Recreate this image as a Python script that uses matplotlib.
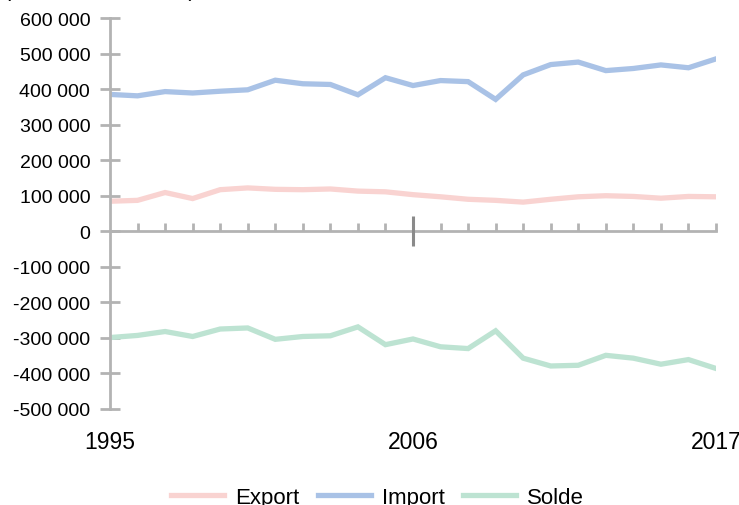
import matplotlib.pyplot as plt
from matplotlib.ticker import FixedLocator, FuncFormatter

plt.rcParams['font.family'] = ['Liberation Sans', 'DejaVu Sans']

years = list(range(1995, 2018))
export = [84500, 87000, 109000, 92000, 117000, 122000, 118000, 117000, 119000, 113000,
          111000, 103000, 97000, 90000, 87000, 82000, 90000, 97000, 100000, 98000,
          93000, 98000, 97000]
imports = [385000, 381000, 393000, 389000, 394000, 398000, 425000, 415000, 413000, 384000,
           432000, 410000, 424000, 421000, 371000, 440000, 469000, 476000, 452000, 458000,
           468000, 460000, 485000]
solde = [-299000, -293000, -282000, -296000, -275000, -272000, -304000, -296000, -294000, -269000,
         -319000, -303000, -325000, -330000, -280000, -357000, -379000, -377000, -349000, -357000,
         -374000, -361000, -386000]
year_labels = [1995, 2006, 2017]
y_ticks = list(range(-500000, 600001, 100000))

c_exp = '#f9d3d1'
c_imp = '#a9c2e6'
c_sol = '#bde3d2'
grey = '#b3b3b3'

fig = plt.figure(figsize=(7.39, 5.06), dpi=100)
ax = fig.add_axes([110 / 739, 96 / 506, 606 / 739, 391 / 506])

ax.plot(years, export, color=c_exp, lw=3.8, label='Export', solid_joinstyle='miter')
ax.plot(years, imports, color=c_imp, lw=3.8, label='Import', solid_joinstyle='miter')
ax.plot(years, solde, color=c_sol, lw=3.8, label='Solde', solid_joinstyle='miter')

ax.set_xlim(1995, 2017)
ax.set_ylim(-500000, 600000)

for s in ['top', 'right']:
    ax.spines[s].set_visible(False)
ax.spines['left'].set_color(grey)
ax.spines['left'].set_linewidth(2)
ax.spines['bottom'].set_position(('data', 0))
ax.spines['bottom'].set_color(grey)
ax.spines['bottom'].set_linewidth(2)
ax.spines['bottom'].set_zorder(1)

ax.yaxis.set_major_locator(FixedLocator(y_ticks))
ax.yaxis.set_major_formatter(FuncFormatter(lambda v, p: f'{int(v):,}'.replace(',', ' ')))
ax.tick_params(axis='y', direction='inout', length=14.5, width=2, color=grey,
               labelsize=14, pad=7)

ax.xaxis.set_major_locator(FixedLocator([2006]))
ax.xaxis.set_minor_locator(FixedLocator([y for y in years if y not in (1995, 2006)]))
ax.tick_params(axis='x', which='major', direction='inout', length=22, width=2.2,
               color='#8a8a8a', labelbottom=False)
ax.tick_params(axis='x', which='minor', direction='in', length=6, width=2, color=grey)

sec = ax.secondary_xaxis('bottom')
sec.spines['bottom'].set_visible(False)
sec.set_xticks(year_labels)
sec.set_xticklabels([str(y) for y in year_labels])
sec.tick_params(length=0, labelsize=16.5, pad=15)

fig.text(4 / 739, 1.008, "(en millions d'euros)", fontsize=15.5, va='baseline', ha='left')

fig.legend(loc='center', bbox_to_anchor=(0.5 + 8 / 739, 0.015), ncol=3, frameon=False,
           fontsize=16, handlelength=2.4, handletextpad=0.5, columnspacing=0.8)

fig.savefig('out.png', dpi=100)
